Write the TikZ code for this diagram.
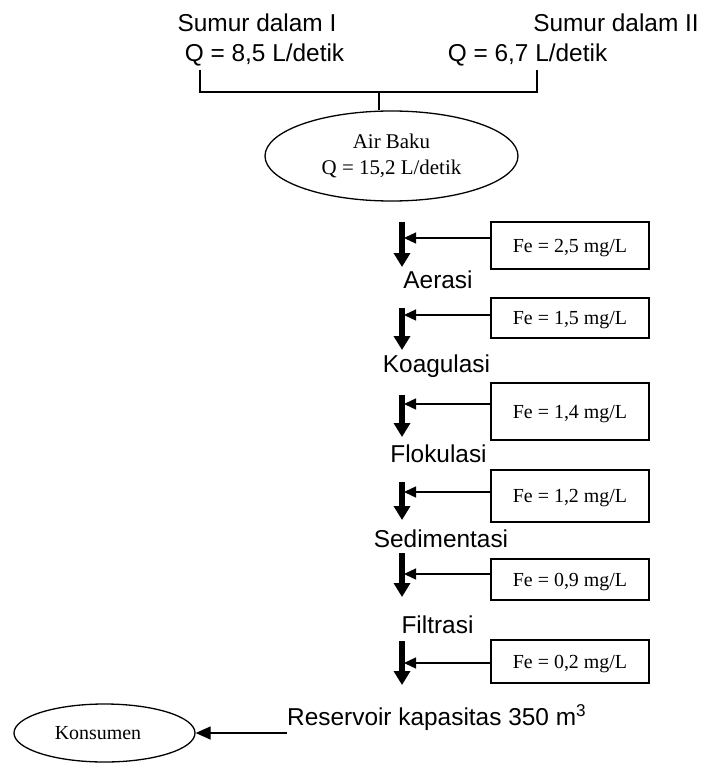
\documentclass[tikz,border=0pt]{standalone}
\usepackage{fontspec}
\setmainfont{Liberation Serif}
\newfontfamily\arialf{Liberation Sans}
\usetikzlibrary{arrows.meta,shapes.geometric}
\begin{document}
\begin{tikzpicture}[x=1bp,y=-1bp,
  lbl/.style={font=\arialf\fontsize{24.5}{29}\selectfont, inner sep=0pt, anchor=base},
  febox/.style={draw, line width=1.3bp, minimum width=158bp, inner sep=0pt,
    font=\fontsize{20}{24}\selectfont, text height=13.2bp, text depth=0pt},
  oval/.style={draw, ellipse, line width=1.3bp, inner sep=0pt, align=center},
  flow/.style={line width=5.5bp, -{Triangle[length=14bp,width=16bp]}},
  feed/.style={line width=1.3bp, -{Triangle[length=12bp,width=11bp]}},
  deliver/.style={line width=1.3bp, -{Triangle[length=15bp,width=13bp]}},
  plain/.style={line width=1.3bp}]
\useasboundingbox (0,0) rectangle (707,767);

% top sources
\node[lbl] (s1) at (257,32) {Sumur dalam I};
\node[lbl] (q1) at (264.5,62) {Q = 8,5 L/detik};
\node[lbl] (s2) at (616,32) {Sumur dalam II};
\node[lbl] (q2) at (527.5,62) {Q = 6,7 L/detik};

% raw water
\node[oval, font=\fontsize{21}{26}\selectfont, minimum width=253bp, minimum height=90bp] (air) at (391.5,156)
  {Air Baku\\Q = 15,2 L/detik};

% bracket
\coordinate (bl) at (200,70);
\coordinate (br) at (537,70);
\coordinate (bm) at (379,92);
\draw[plain] (bl) |- (bm) -| (br);
\draw[plain] (bm) -- (air.north -| bm);

% process labels
\node[lbl] (aer) at (438,288) {Aerasi};
\node[lbl] (koa) at (436.5,372) {Koagulasi};
\node[lbl] (flo) at (438.5,462) {Flokulasi};
\node[lbl] (sed) at (441,547) {Sedimentasi};
\node[lbl] (fil) at (437.5,633) {Filtrasi};

% Fe boxes
\node[febox, minimum height=47bp] (b1) at (570,245.5) {Fe = 2,5 mg/L};
\node[febox, minimum height=40bp] (b2) at (570,318) {Fe = 1,5 mg/L};
\node[febox, minimum height=57bp] (b3) at (570,411.5) {Fe = 1,4 mg/L};
\node[febox, minimum height=52bp] (b4) at (570,496) {Fe = 1,2 mg/L};
\node[febox, minimum height=41bp] (b5) at (570,579.5) {Fe = 0,9 mg/L};
\node[febox, minimum height=43bp] (b6) at (570,661.5) {Fe = 0,2 mg/L};

% flow arrows
\coordinate (v1t) at (402,222); \coordinate (v1b) at (402,267);
\coordinate (v2t) at (402,308); \coordinate (v2b) at (402,350);
\coordinate (v3t) at (402,395); \coordinate (v3b) at (402,437);
\coordinate (v4t) at (402,482); \coordinate (v4b) at (402,520);
\coordinate (v5t) at (402,553); \coordinate (v5b) at (402,597);
\coordinate (v6t) at (402,641); \coordinate (v6b) at (402,685);
\draw[flow] (v1t) -- (v1b);
\draw[flow] (v2t) -- (v2b);
\draw[flow] (v3t) -- (v3b);
\draw[flow] (v4t) -- (v4b);
\draw[flow] (v5t) -- (v5b);
\draw[flow] (v6t) -- (v6b);

% feed arrows
\coordinate (h1) at (404,238);
\coordinate (h2) at (404,315);
\coordinate (h3) at (404,404);
\coordinate (h4) at (404,492);
\coordinate (h5) at (404,574);
\coordinate (h6) at (404,663);
\draw[feed] (b1.west |- h1) -- (h1);
\draw[feed] (b2.west |- h2) -- (h2);
\draw[feed] (b3.west |- h3) -- (h3);
\draw[feed] (b4.west |- h4) -- (h4);
\draw[feed] (b5.west |- h5) -- (h5);
\draw[feed] (b6.west |- h6) -- (h6);

% consumer
\node[oval, font=\fontsize{20}{24}\selectfont, minimum width=181bp, minimum height=58bp] (kons) at (104.5,733) {\hspace*{-13bp}Konsumen};
\node[lbl, anchor=base west] (res) at (287,725) {Reservoir kapasitas 350 m\textsuperscript{3}};
\draw[deliver] (res.west |- kons.east) -- (kons.east);
\end{tikzpicture}
\end{document}
